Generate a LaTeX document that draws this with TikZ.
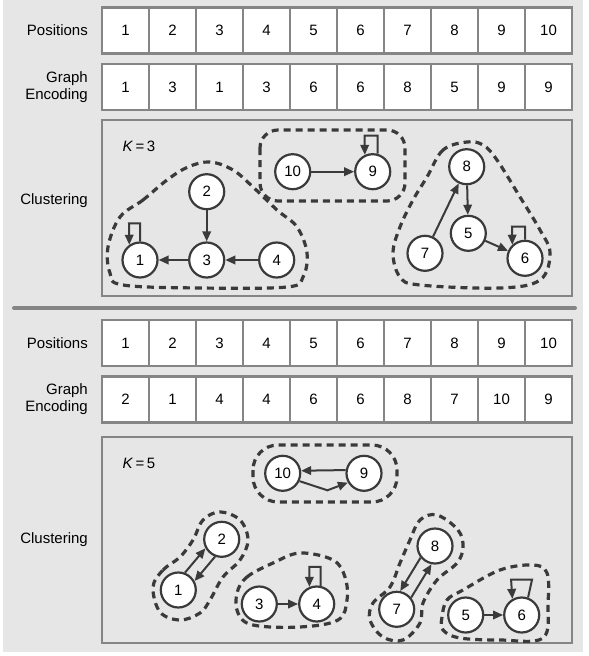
\documentclass[tikz,border=0pt]{standalone}
\usepackage{fontspec}
\setmainfont{Liberation Sans}
\usetikzlibrary{calc,positioning,arrows.meta}
\definecolor{bggray}{HTML}{E6E6E6}
\definecolor{boxgray}{HTML}{858585}
\definecolor{inkgray}{HTML}{3A3A3A}
\tikzstyle{cell}     = [rectangle, draw=boxgray, line width=2.4pt, fill=white, minimum width=47pt, minimum height=46pt, inner sep=0pt, font=\fontsize{15}{17}\selectfont]
\tikzstyle{rowlabel} = [anchor=east, align=right, inner sep=0pt, font=\fontsize{15}{17}\selectfont]
\tikzstyle{panel}    = [draw=boxgray, line width=2.4pt]
\tikzstyle{vertex}   = [circle, draw=inkgray, line width=2.2pt, fill=white, minimum size=35pt, inner sep=0pt, font=\fontsize{15}{17}\selectfont]
\tikzstyle{link}     = [draw=inkgray, line width=2pt, -{Triangle[length=10pt,width=8.5pt]}]
\tikzstyle{cluster}  = [draw=inkgray, line width=3.2pt, dash pattern=on 7pt off 5pt]

\begin{document}
\begin{tikzpicture}[x=1pt,y=-1pt]
        \useasboundingbox (0,0) rectangle (589,656);
        \fill[bggray] (3,0) rectangle (583,652);

        % first encoding
        \node[rowlabel] (pos1) at (88,30.3) {Positions};
        \node[rowlabel] (enc1) at (88,87) {Graph\\Encoding};
        \node[rowlabel] (clu1) at (88,201) {Clustering};
        \foreach \v [count=\i] in {1,...,10}
            \node[cell] (p1-\i) at (78.5+47*\i,30.3) {\v};
        \foreach \v [count=\i] in {1,3,1,3,6,6,8,5,9,9}
            \node[cell] (g1-\i) at (78.5+47*\i,87) {\v};
        \draw[panel] (102,120) rectangle (572,296);
        \node[font=\fontsize{15}{17}\selectfont] (k1) at (139,146) {\textit{K}\,=\,3};

        \node[vertex] (a1) at (140,260) {1};
        \node[vertex] (a2) at (206.7,191.7) {2};
        \node[vertex] (a3) at (206.7,260) {3};
        \node[vertex] (a4) at (276.7,260) {4};
        \node[vertex] (a5) at (468.3,233.3) {5};
        \node[vertex] (a6) at (525,258.3) {6};
        \node[vertex] (a7) at (425,253.3) {7};
        \node[vertex] (a8) at (466.7,166.7) {8};
        \node[vertex] (a9) at (372.7,171.7) {9};
        \node[vertex] (a10) at (292.7,171.7) {10};

        \draw[link] (a2) -- (a3);
        \draw[link] (a3) -- (a1);
        \draw[link] (a4) -- (a3);
        \draw[link] (a10) -- (a9);
        \draw[link] (a7) -- (a8);
        \draw[link] (a8) -- (a5);
        \draw[link] (a5) -- (a6);
        \draw[link] (a1.north) -- ++(0,-18) -- ++(-11,0) -- (a1.125);
        \draw[link] (a9.75) -- ++(0,-18) -- ++(-13,0) -- (a9.115);
        \draw[link] (a6.north) -- ++(0,-13) -- ++(-13,0) -- (a6.133);

        \draw[cluster] plot[smooth cycle, tension=0.6] coordinates {(120,217) (143,200) (167,180) (188,167) (210,162) (233,170) (253,187) (277,210) (297,227) (307,253) (303,277) (287,287) (200,288) (123,285) (110,273) (108,247)};
        \draw[cluster, rounded corners=18] (260,130) rectangle (405,201);
        \draw[cluster] plot[smooth cycle, tension=0.6] coordinates {(467,142) (443,150) (427,177) (413,200) (400,227) (393,253) (400,277) (420,285) (500,288) (540,280) (550,253) (540,230) (520,197) (497,160) (483,145)};

        \draw[line width=4pt, boxgray, line cap=round] (14,308) -- (575,308);

        % second encoding
        \node[rowlabel] (pos2) at (88,343) {Positions};
        \node[rowlabel] (enc2) at (88,399.5) {Graph\\Encoding};
        \node[rowlabel] (clu2) at (88,540) {Clustering};
        \foreach \v [count=\i] in {1,...,10}
            \node[cell] (p2-\i) at (78.5+47*\i,343) {\v};
        \foreach \v [count=\i] in {2,1,4,4,6,6,8,7,10,9}
            \node[cell] (g2-\i) at (78.5+47*\i,399.5) {\v};
        \draw[panel] (102,437) rectangle (572,643);
        \node[font=\fontsize{15}{17}\selectfont] (k2) at (139,463) {\textit{K}\,=\,5};

        \node[vertex] (b1) at (178.3,590) {1};
        \node[vertex] (b2) at (221.7,539.3) {2};
        \node[vertex] (b3) at (259.3,604) {3};
        \node[vertex] (b4) at (316.7,604) {4};
        \node[vertex] (b5) at (465.7,615) {5};
        \node[vertex] (b6) at (521.7,615) {6};
        \node[vertex] (b7) at (396.7,609.3) {7};
        \node[vertex] (b8) at (435,546) {8};
        \node[vertex] (b9) at (364,473.3) {9};
        \node[vertex] (b10) at (282.7,473.3) {10};

        \draw[link] (b9.170) -- (b10.8);
        \draw[link] (b10.-25) -- ($(b10)!0.55!(b9)+(0,17)$) -- (b9.-150);
        \draw[link] (b1.69) -- (b2.209);
        \draw[link] (b2.249) -- (b1.29);
        \draw[link] (b3) -- (b4);
        \draw[link] (b8.219) -- (b7.79);
        \draw[link] (b7.39) -- (b8.259);
        \draw[link] (b5) -- (b6);
        \draw[link] (b4.78) -- ++(0,-19) -- ++(-11.3,0) -- (b4.113);
        \draw[link] (b6.70) -- ++(4,-18) -- ++(-21,0) -- (b6.120);

        \draw[cluster, rounded corners=25] (253,445) rectangle (397,502);
        \draw[cluster] plot[smooth cycle, tension=0.6] coordinates {(153,587) (163,570) (180,557) (193,540) (203,520) (220,512) (240,520) (248,540) (240,560) (223,577) (210,600) (200,613) (180,620) (160,612)};
        \draw[cluster] plot[smooth cycle, tension=0.6] coordinates {(237,593) (247,577) (273,563) (300,553) (333,560) (345,577) (347,600) (338,620) (300,627) (253,625) (238,613)};
        \draw[cluster] plot[smooth cycle, tension=0.6] coordinates {(437,515) (458,530) (463,547) (457,563) (437,580) (423,603) (420,623) (403,640) (383,637) (370,620) (373,603) (390,587) (400,563) (410,540) (420,520)};
        \draw[cluster] plot[smooth cycle, tension=0.6] coordinates {(442,617) (447,600) (463,590) (500,570) (533,565) (547,573) (548,603) (543,638) (500,640) (460,638) (443,630)};
\end{tikzpicture}
\end{document}
